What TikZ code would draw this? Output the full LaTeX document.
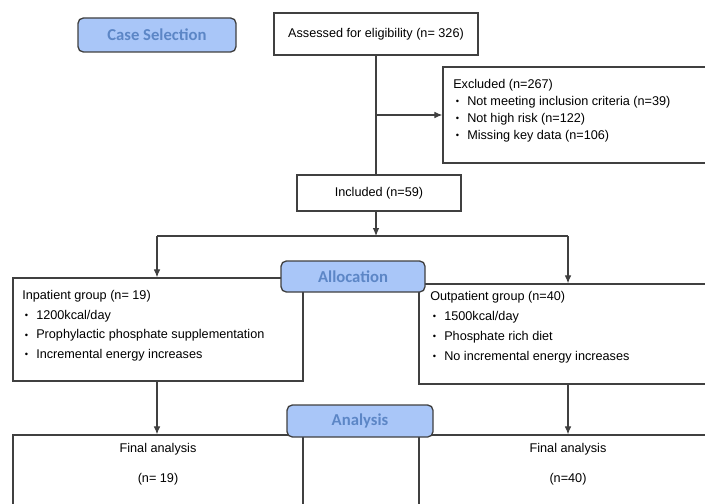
\documentclass[tikz,border=0pt]{standalone}
\usepackage{fontspec}
\setmainfont{Liberation Sans}
\newfontfamily\stagefont{Carlito}
\usetikzlibrary{positioning,fit,arrows.meta}
\definecolor{stagefill}{HTML}{A9C6F8}
\definecolor{stagetext}{HTML}{5C86C6}
\definecolor{linegray}{HTML}{404040}
\newcommand\itembul{\hspace*{2pt}\makebox[8.5pt][l]{\raisebox{0.1ex}{\scriptsize\textbullet}}}
\tikzset{
  flowbox/.style={draw=linegray, line width=1pt, fill=white, inner sep=0pt},
  stagebox/.style={draw=linegray, line width=1pt, fill=stagefill, rounded corners=4pt, inner sep=0pt},
  stagetxt/.style={text=stagetext, font=\stagefont\bfseries\fontsize{12.5}{15}\selectfont},
  flowline/.style={draw=linegray, line width=0.8pt},
  flowarrow/.style={flowline, -{Latex[length=6pt,width=5pt]}},
  boxtext/.style={inner sep=0pt, anchor=north west, align=left},
}
\begin{document}
\begin{tikzpicture}[x=0.75pt, y=-0.75pt, font=\fontsize{9.5}{12}\selectfont]
    \useasboundingbox (0,0) rectangle (705,503);
    \clip (0,0) rectangle (705,503);
    %% Boxes
    \node[flowbox, fit={(274,13) (478,55)}, label=center:{Assessed for eligibility (n= 326)}] (assess) {};
    \node[flowbox, fit={(443,67) (715,163)}] (excl) {};
    \node[flowbox, fit={(297,175) (461,211)}, label=center:{Included (n=59)}] (incl) {};
    \node[flowbox, fit={(13,278) (303,381)}] (inpat) {};
    \node[flowbox, fit={(419,284) (715,384)}] (outpat) {};
    \node[flowbox, fit={(13,435) (303,520)}] (finL) {};
    \node[flowbox, fit={(419,435) (715,520)}] (finR) {};
    %% Box texts
    \node[boxtext, font=\fontsize{9.5}{12.75}\selectfont] (excltxt) at (453,79)
      {Excluded (n=267)\\ \itembul Not meeting inclusion criteria (n=39)\\
       \itembul Not high risk (n=122)\\ \itembul Missing key data (n=106)};
    \node[boxtext, font=\fontsize{9.5}{14.8}\selectfont] (inpattxt) at (22,290)
      {Inpatient group (n= 19)\\ \itembul 1200kcal/day\\
       \itembul Prophylactic phosphate supplementation\\ \itembul Incremental energy increases};
    \node[boxtext, font=\fontsize{9.5}{15}\selectfont] (outpattxt) at (430,291)
      {Outpatient group (n=40)\\ \itembul 1500kcal/day\\
       \itembul Phosphate rich diet\\ \itembul No incremental energy increases};
    \node[inner sep=0pt, anchor=north, align=center, font=\fontsize{9.5}{22.5}\selectfont] (finLtxt) at (158,443)
      {Final analysis\\ (n= 19)};
    \node[inner sep=0pt, anchor=north, align=center, font=\fontsize{9.5}{22.5}\selectfont] (finRtxt) at (568,443)
      {Final analysis\\ (n=40)};
    %% Stage labels
    \node[stagebox, fit={(78,18) (236,52)}, label={[stagetxt]center:Case Selection}] (casesel) {};
    \node[stagebox, fit={(281,261) (425,292)}, label={[stagetxt]center:Allocation}] (alloc) {};
    \node[stagebox, fit={(287,405) (433,437)}, label={[stagetxt]center:Analysis}] (analys) {};
    %% Connectors
    \coordinate (splitL) at (157,236);
    \coordinate (splitR) at (568,236);
    \draw[flowline] (assess.south) -- (assess.south |- incl.north);
    \draw[flowarrow] (assess.south |- excl.west) -- (excl.west);
    \draw[flowarrow] (assess.south |- incl.south) -- (assess.south |- splitL);
    \draw[flowline] (splitL) -- (splitR);
    \draw[flowarrow] (splitL) -- (splitL |- inpat.north);
    \draw[flowarrow] (splitR) -- (splitR |- outpat.north);
    \draw[flowarrow] (splitL |- inpat.south) -- (splitL |- finL.north);
    \draw[flowarrow] (splitR |- outpat.south) -- (splitR |- finR.north);
\end{tikzpicture}
\end{document}
